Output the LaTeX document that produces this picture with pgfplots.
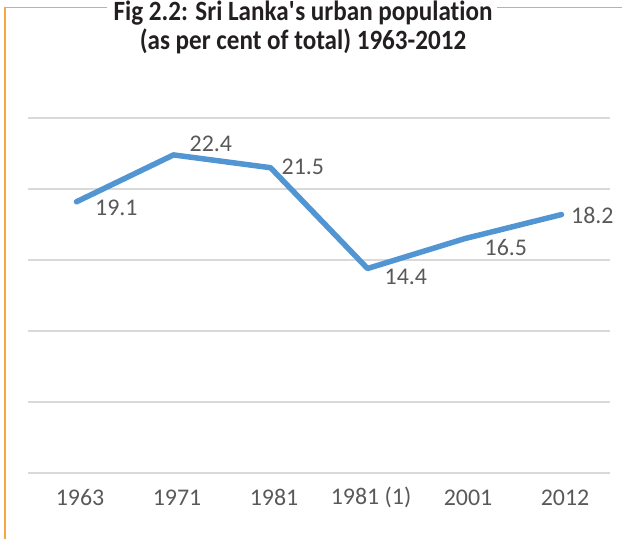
\documentclass[border=0pt]{standalone}
\usepackage{fontspec}
\setmainfont{Carlito}[Ligatures={NoCommon}]
\newfontfamily\titlefont[FakeStretch=0.9, Ligatures={NoCommon}]{Carlito}
\usepackage{pgfplots}
\pgfplotsset{compat=1.18}
\definecolor{lineblue}{HTML}{5295D3}
\definecolor{gridgray}{HTML}{D9D9D9}
\definecolor{txtgray}{HTML}{595959}
\definecolor{titlegray}{HTML}{231F20}
\definecolor{frameorange}{HTML}{F5A742}

\pgfplotstableread{
x y lab dx dy
0 19.1 19.1 40 -6
1 22.4 22.4 37.5 11
2 21.5 21.5 32.5 0.5
3 14.4 14.4 38.5 -8.5
4 16.5 16.5 41.5 -9.3
5 18.2 18.2 31 -0.4
}\urbanpop

\begin{document}
\begin{tikzpicture}[x=1bp,y=1bp]
\path[use as bounding box] (0,0) rectangle (622,539);
% frame lines
\draw[frameorange, line width=1.3bp] (107,531.5) -- (5,531.5) -- (5,0);
\draw[frameorange, line width=1.3bp] (497,531.5) -- (622,531.5);
% title
\node[font=\titlefont\bfseries\fontsize{28}{31}\selectfont, text=titlegray, anchor=base] at (303,518) {Fig 2.2: Sri Lanka\textquotesingle s urban population};
\node[font=\titlefont\bfseries\fontsize{28}{31}\selectfont, text=titlegray, anchor=base] at (303,489) {(as per cent of total) 1963-2012};
\begin{axis}[
    at={(28bp,66bp)}, anchor=south west,
    scale only axis, width=582bp, height=355bp,
    xmin=-0.5, xmax=5.5, ymin=0, ymax=25,
    axis line style={draw=none},
    tick style={draw=none},
    ytick={0,5,...,25}, yticklabels={},
    ymajorgrids, major grid style={gridgray, line width=1.4bp},
    xtick={0,...,5},
    xticklabels={1963,1971,1981,1981 (1),2001,2012},
    xticklabel style={anchor=center, xshift=3.5bp, yshift=-24.7bp, font=\fontsize{24}{28}\selectfont, text=txtgray},
    clip=false,
]
\addplot[lineblue, line width=5.5bp, line cap=round, line join=round,
    point meta=explicit symbolic,
    visualization depends on={\thisrow{dx}\as\dx},
    visualization depends on={\thisrow{dy}\as\dy},
    nodes near coords,
    every node near coord/.append style={anchor=center, xshift=\dx, yshift=\dy, font=\fontsize{24}{28}\selectfont, text=txtgray},
] table[x=x, y=y, meta=lab] {\urbanpop};
\end{axis}
\end{tikzpicture}
\end{document}
